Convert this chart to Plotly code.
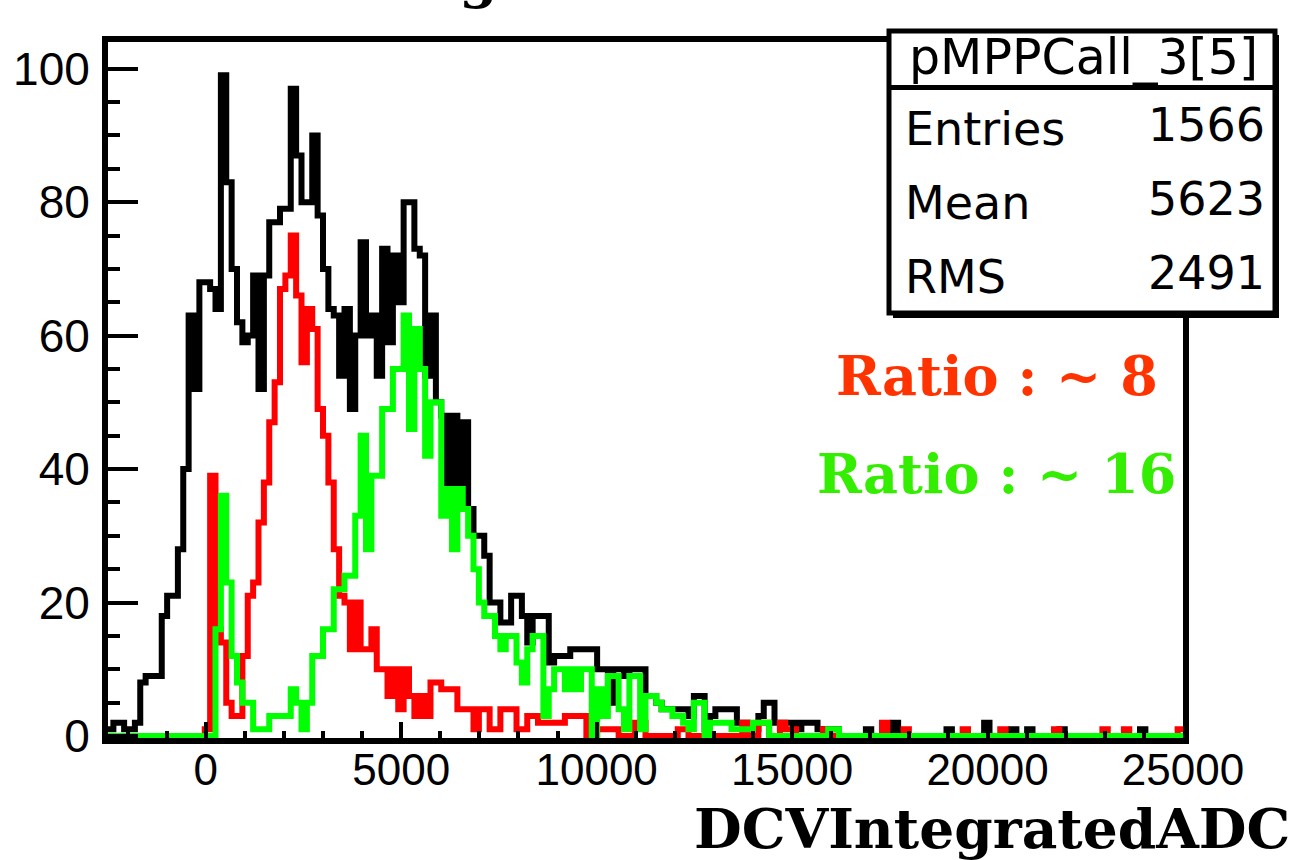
import plotly.graph_objects as go

# ---------------- data ----------------
x_min, x_max, n_bins = -2500.0, 25000.0, 200

black_counts = [
    1, 2, 2, 1, 1, 2, 8, 9, 9, 9, 18, 21, 21, 28, 40, 63, 52, 68, 68, 67,
    64, 99, 83, 70, 62, 59, 60, 69, 52, 69, 77, 77, 79, 79, 97, 87, 80, 80, 90, 78,
    70, 64, 63, 54, 64, 49, 60, 74, 60, 63, 54, 73, 59, 72, 65, 80, 80, 73, 72, 54,
    63, 50, 48, 36, 48, 35, 47, 34, 30, 30, 27, 20, 20, 17, 17, 21, 21, 18, 14, 18,
    18, 18, 11, 12, 12, 12, 13, 13, 13, 13, 13, 10, 10, 5, 10, 10, 9, 10, 10, 10,
    6, 6, 5, 4, 4, 4, 4, 4, 3, 6, 6, 1, 3, 4, 4, 4, 4, 2, 2, 1,
    1, 3, 5, 5, 2, 2, 2, 2, 1, 2, 2, 2, 1, 1, 1, 1, 0, 0, 0, 0,
    0, 1, 0, 0, 0, 0, 2, 0, 0, 0, 0, 0, 0, 0, 0, 0, 1, 0, 0, 0,
    0, 0, 0, 2, 0, 0, 0, 0, 1, 0, 0, 1, 0, 0, 0, 0, 0, 1, 0, 0,
    0, 0, 0, 0, 0, 0, 0, 0, 0, 0, 0, 0, 1, 0, 0, 0, 0, 0, 0, 0,
]

red_counts = [
    0, 0, 0, 0, 0, 0, 0, 0, 0, 0, 0, 0, 0, 0, 0, 0, 0, 0, 1, 39,
    16, 14, 5, 3, 3, 12, 21, 23, 32, 38, 47, 53, 67, 69, 75, 66, 56, 64, 61, 49,
    45, 38, 28, 21, 20, 13, 20, 13, 13, 16, 10, 10, 6, 10, 4, 10, 6, 3, 6, 3,
    8, 8, 7, 7, 7, 4, 4, 4, 1, 4, 4, 1, 1, 4, 4, 4, 1, 1, 3, 3,
    2, 2, 2, 2, 2, 3, 3, 3, 3, 0, 0, 1, 1, 1, 1, 0, 0, 0, 2, 2,
    0, 0, 0, 0, 0, 0, 1, 1, 0, 0, 0, 0, 0, 0, 0, 0, 0, 0, 2, 0,
    0, 2, 2, 0, 0, 2, 1, 1, 0, 0, 0, 0, 0, 1, 0, 0, 0, 0, 0, 0,
    0, 0, 0, 0, 2, 0, 0, 0, 1, 0, 0, 0, 0, 0, 0, 0, 0, 0, 0, 1,
    0, 0, 0, 0, 0, 0, 1, 0, 0, 0, 0, 0, 0, 0, 0, 0, 1, 0, 0, 0,
    0, 0, 0, 0, 0, 1, 0, 0, 0, 1, 0, 0, 0, 0, 0, 0, 0, 0, 0, 1,
]

green_counts = [
    0, 0, 0, 0, 0, 0, 0, 0, 0, 0, 0, 0, 0, 0, 0, 0, 0, 0, 0, 0,
    16, 36, 23, 12, 8, 5, 5, 1, 1, 1, 3, 3, 3, 3, 7, 5, 1, 5, 12, 12,
    16, 16, 22, 22, 24, 24, 33, 45, 28, 39, 39, 49, 49, 55, 55, 63, 46, 61, 55, 42,
    50, 50, 33, 37, 28, 37, 34, 30, 25, 20, 18, 18, 15, 13, 15, 15, 11, 8, 13, 15,
    15, 3, 7, 10, 10, 7, 10, 7, 10, 10, 0, 7, 3, 9, 9, 4, 1, 9, 9, 1,
    6, 6, 5, 4, 4, 3, 3, 2, 1, 5, 5, 0, 2, 2, 2, 2, 1, 1, 1, 1,
    2, 2, 2, 0, 0, 0, 0, 0, 0, 0, 0, 0, 0, 0, 1, 1, 0, 0, 0, 0,
    0, 0, 0, 0, 0, 0, 0, 0, 0, 0, 0, 0, 0, 0, 0, 0, 0, 0, 0, 0,
    0, 0, 0, 0, 0, 0, 0, 0, 0, 0, 0, 0, 0, 0, 0, 0, 0, 0, 0, 0,
    0, 0, 0, 0, 0, 0, 0, 0, 0, 0, 0, 0, 0, 0, 0, 0, 0, 0, 0, 0,
]

stats_title = "pMPPCall_3[5]"
stats_labels = ["Entries", "Mean", "RMS"]
stats_values = ["1566", "5623", "2491"]
x_title = "DCVIntegratedADC"
hist_title = "DCVIntegratedADC"
ratio_texts = ["Ratio : ~ 8", "Ratio : ~ 16"]

# ---------------- figure ----------------
W, H = 1302, 860
L, R, T, B = 108, 1183, 42, 738  # plot area in pixels

def px(xp):
    return (xp - L) / (R - L)

def py(yp):
    return (B - yp) / (B - T)

bin_w = (x_max - x_min) / n_bins
edges = [x_min + i * bin_w for i in range(n_bins + 1)]

fig = go.Figure()
for counts, color in [(black_counts, "#000000"), (red_counts, "#ff0000"), (green_counts, "#00ff00")]:
    fig.add_trace(go.Scatter(
        x=edges, y=counts + [counts[-1]], mode="lines",
        line=dict(color=color, width=6, shape="hv"),
        showlegend=False, hoverinfo="skip"))

xtick_font = dict(family="Liberation Sans, Arial, sans-serif", size=44, color="black")
ytick_font = dict(family="Liberation Sans, Arial, sans-serif", size=46, color="black")

fig.update_layout(
    width=W, height=H,
    margin=dict(l=L, r=W - R, t=T, b=H - B, pad=0),
    paper_bgcolor="white", plot_bgcolor="white",
    showlegend=False,
    xaxis=dict(
        range=[x_min, x_max], showgrid=False, zeroline=False,
        showline=True, linewidth=6, linecolor="black", mirror=True,
        ticks="inside", ticklen=16, tickwidth=4, tickcolor="black",
        tick0=0, dtick=5000, tickformat="d", tickfont=xtick_font, ticklabelstandoff=-12,
        minor=dict(ticks="inside", ticklen=7, tickwidth=4, tickcolor="black", dtick=1000, tick0=0),
    ),
    yaxis=dict(
        range=[-0.3, 104.0], showgrid=False, zeroline=False,
        showline=True, linewidth=6, linecolor="black", mirror=True,
        ticks="inside", ticklen=30, tickwidth=4, tickcolor="black",
        tick0=0, dtick=20, tickformat="d", tickfont=ytick_font, ticklabelstandoff=3,
        minor=dict(ticks="inside", ticklen=12, tickwidth=4, tickcolor="black", dtick=5, tick0=0),
    ),
)

shapes = []
# stats box shadow + box
shapes.append(dict(type="rect", xref="paper", yref="paper",
                   x0=px(893), x1=px(1279), y0=py(318), y1=py(35),
                   line=dict(width=0), fillcolor="black", layer="above"))
shapes.append(dict(type="rect", xref="paper", yref="paper",
                   x0=px(889), x1=px(1275), y0=py(313), y1=py(31),
                   line=dict(width=5, color="black"), fillcolor="white", layer="above"))
shapes.append(dict(type="line", xref="paper", yref="paper",
                   x0=px(889), x1=px(1275), y0=py(87.5), y1=py(87.5),
                   line=dict(width=5, color="black"), layer="above"))
fig.update_layout(shapes=shapes)

stat_font = dict(family="DejaVu Sans", size=46, color="black")
ann = []
ann.append(dict(text=stats_title, xref="paper", yref="paper", x=px(1083), y=py(58),
                xanchor="center", yanchor="middle", showarrow=False,
                font=dict(family="DejaVu Sans", size=49, color="black")))
row_y = [129, 203, 277]
for lab, val, yy in zip(stats_labels, stats_values, row_y):
    ann.append(dict(text=lab, xref="paper", yref="paper", x=px(903), y=py(yy),
                    xanchor="left", yanchor="middle", showarrow=False, font=stat_font))
    ann.append(dict(text=val, xref="paper", yref="paper", x=px(1267), y=py(yy - 4),
                    xanchor="right", yanchor="middle", showarrow=False, font=stat_font))

serif = "DejaVu Serif"
ann.append(dict(text="<b>%s</b>" % ratio_texts[0], xref="paper", yref="paper", x=px(1160), y=py(376),
                xanchor="right", yanchor="middle", showarrow=False,
                font=dict(family=serif, size=54, color="#ff3300")))
ann.append(dict(text="<b>%s</b>" % ratio_texts[1], xref="paper", yref="paper", x=px(1178), y=py(474),
                xanchor="right", yanchor="middle", showarrow=False,
                font=dict(family=serif, size=54, color="#33ee00")))
ann.append(dict(text="<b>%s</b>" % x_title, xref="paper", yref="paper", x=px(1292), y=py(828),
                xanchor="right", yanchor="middle", showarrow=False,
                font=dict(family=serif, size=55, color="black")))
# histogram title, almost entirely above the visible page (only the tail of the "g" shows)
ann.append(dict(text="<b>%s</b>" % hist_title, xref="paper", yref="paper", x=px(197), y=py(12),
                xanchor="left", yanchor="bottom", showarrow=False,
                font=dict(family=serif, size=55, color="black")))
fig.update_layout(annotations=ann)

fig.write_html(
    "out.html",
    config={"displayModeBar": False},
    post_script="document.body.style.margin='0px';document.body.style.overflow='hidden';",
)
